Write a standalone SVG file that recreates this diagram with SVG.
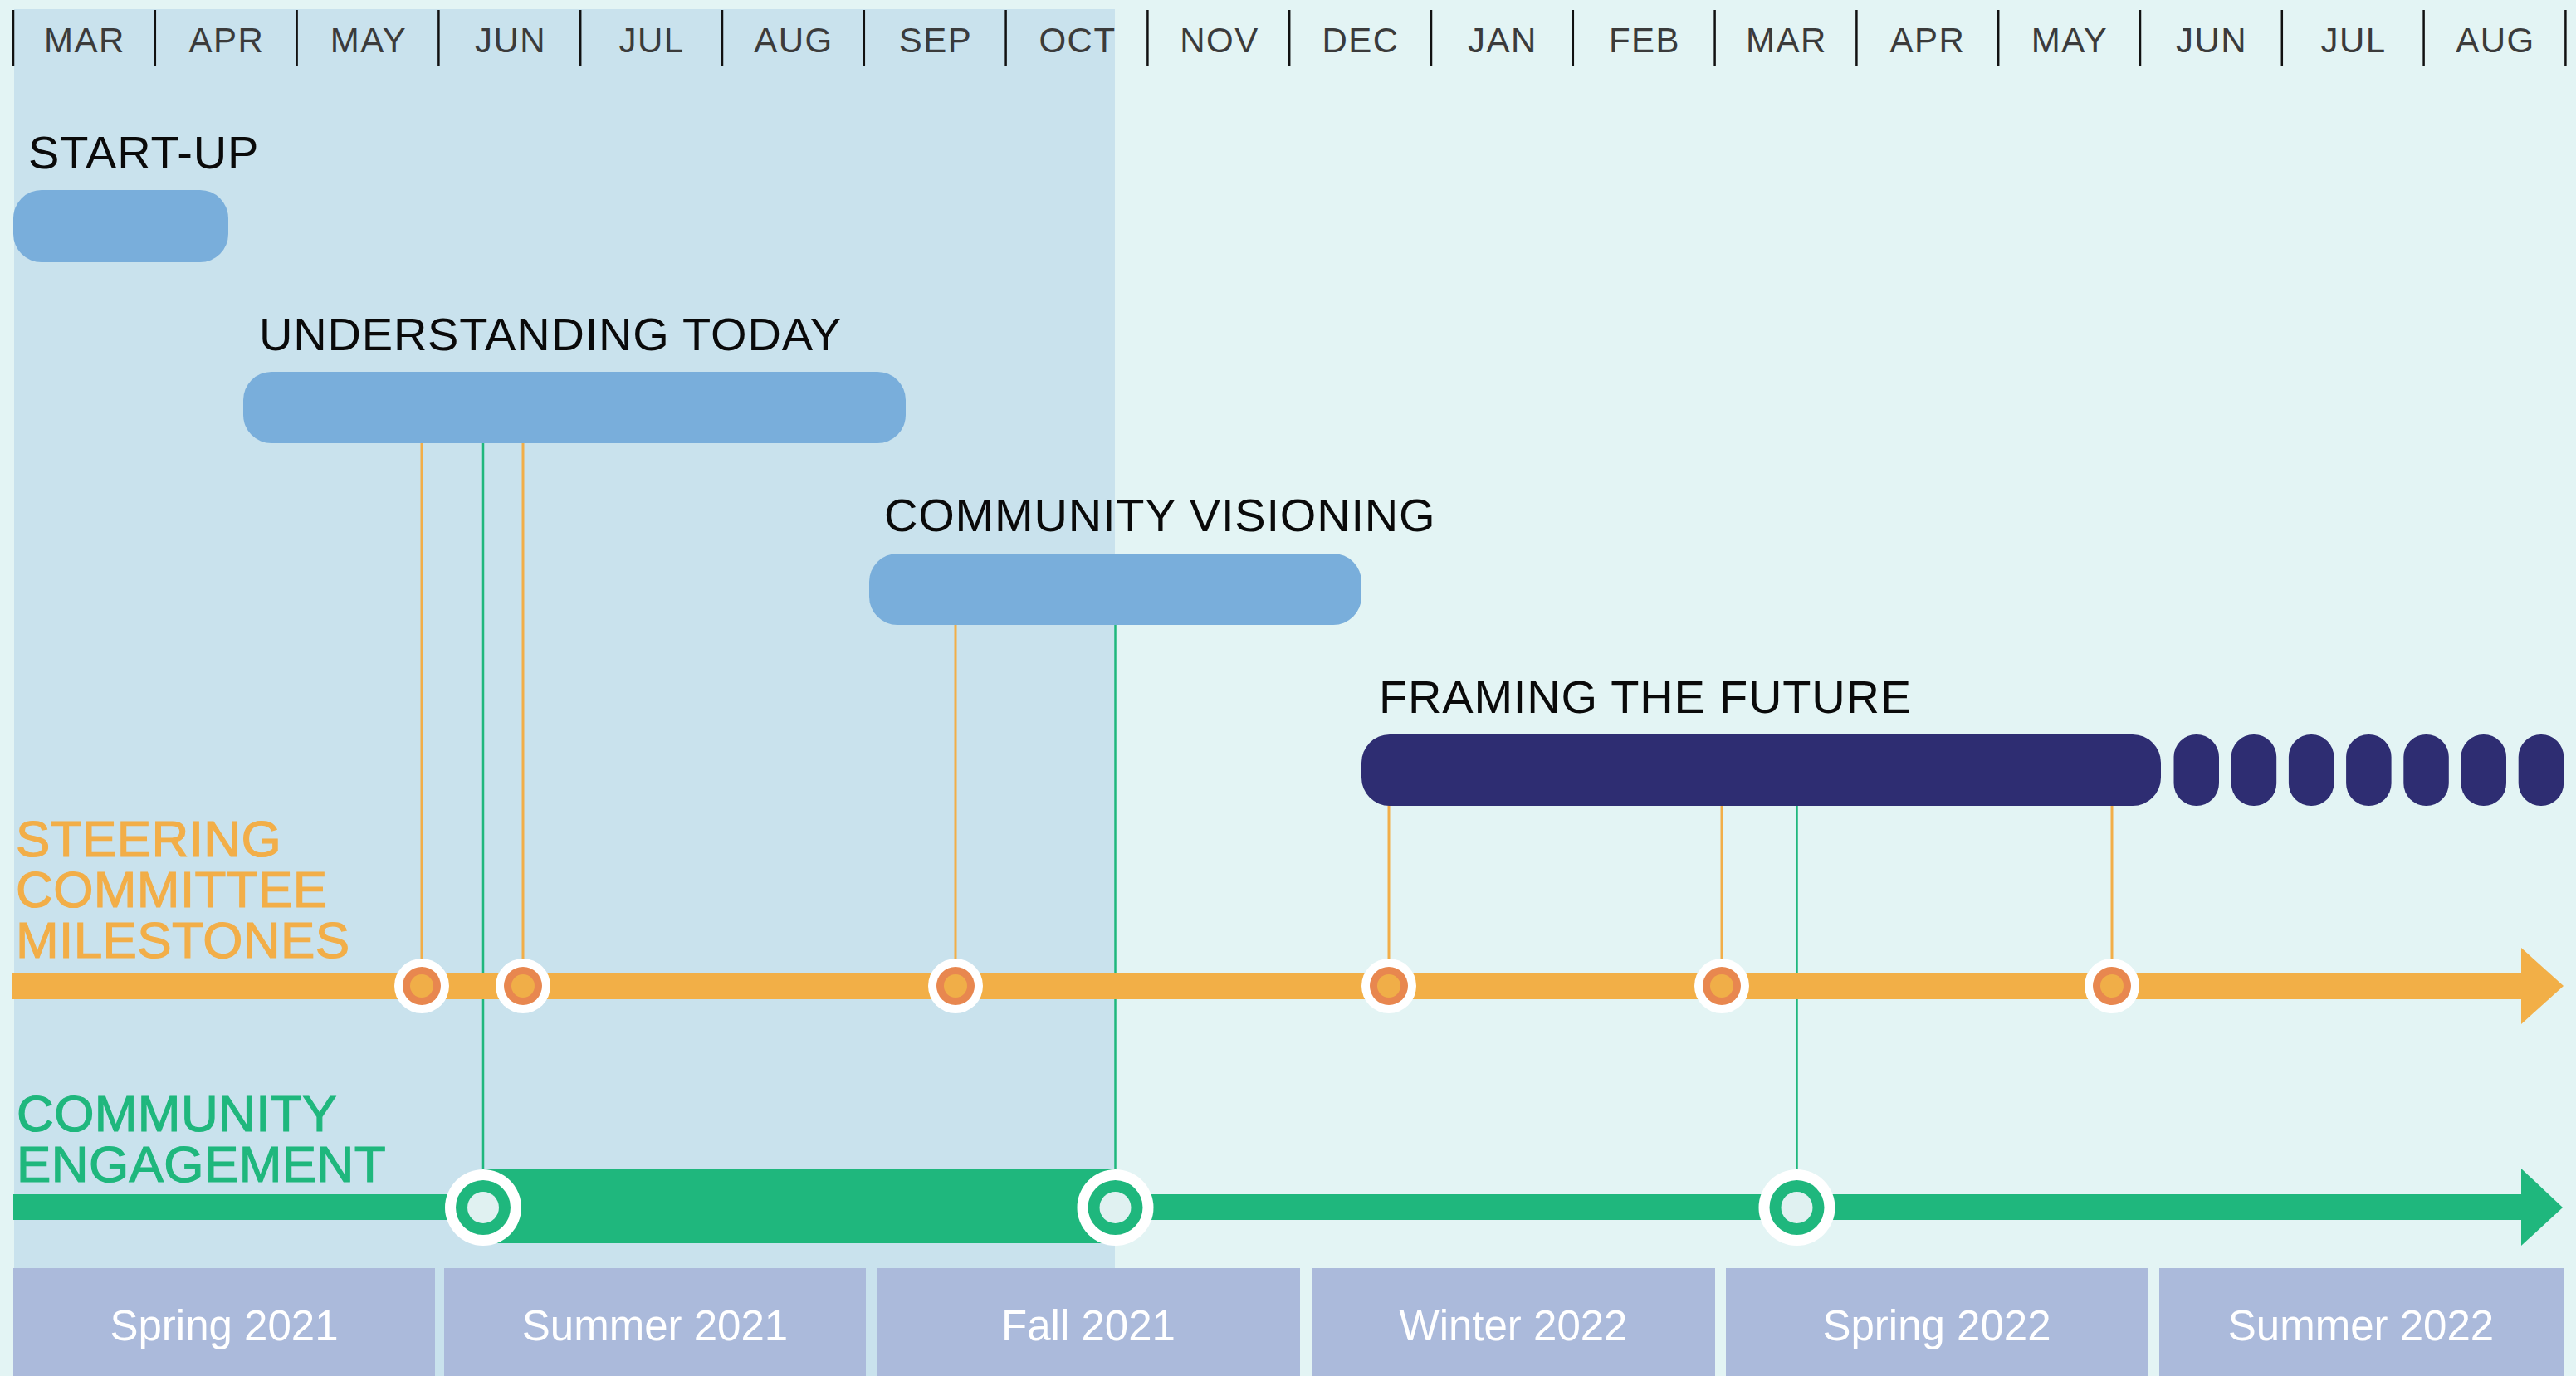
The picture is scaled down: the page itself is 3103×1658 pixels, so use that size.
<svg xmlns="http://www.w3.org/2000/svg" width="3103" height="1658" viewBox="0 0 3103 1658">
<style>
.month{font-family:"Liberation Sans",Arial,sans-serif;font-size:42px;fill:#3b3b3b;text-anchor:middle;letter-spacing:1.5px}
.tick{stroke:#111;stroke-width:2.5}
.title{font-family:"Liberation Sans",Arial,sans-serif;font-size:56px;fill:#0a0a0a;letter-spacing:0.8px}
.phase{fill:#79aedb}
.dark{fill:#2e2d72}
.season{fill:#abbadb}
.stext{font-family:"Liberation Sans",Arial,sans-serif;font-size:51px;fill:#ffffff;text-anchor:middle}
.steer{font-family:"Liberation Sans",Arial,sans-serif;font-size:62px;fill:#f2ae48;stroke:#f2ae48;stroke-width:1.2;letter-spacing:0.4px}
.comm{font-family:"Liberation Sans",Arial,sans-serif;font-size:62px;fill:#1fb77d;stroke:#1fb77d;stroke-width:1.2;letter-spacing:0.4px}
.oline{stroke:#f2ae48;stroke-width:3}
.gline{stroke:#1fb77d;stroke-width:2.5}
</style>
<defs>
<g id="om"><circle r="33" fill="#ffffff"/><circle r="23" fill="#e8874f"/><circle r="14" fill="#f0ae48"/></g>
<g id="gm"><circle r="46" fill="#ffffff"/><circle r="33" fill="#1fb77d"/><circle r="19" fill="#e0f1f1"/></g>
</defs>
<rect x="0" y="0" width="3103" height="1658" fill="#e3f4f4"/>
<rect x="17" y="11" width="1326" height="1647" fill="#c9e2ed"/>

<g id="months">
<g class="tick">
<line x1="16" y1="12" x2="16" y2="80"/><line x1="186.8" y1="12" x2="186.8" y2="80"/><line x1="357.6" y1="12" x2="357.6" y2="80"/><line x1="528.4" y1="12" x2="528.4" y2="80"/><line x1="699.2" y1="12" x2="699.2" y2="80"/><line x1="870" y1="12" x2="870" y2="80"/><line x1="1040.8" y1="12" x2="1040.8" y2="80"/><line x1="1211.6" y1="12" x2="1211.6" y2="80"/><line x1="1382.4" y1="12" x2="1382.4" y2="80"/><line x1="1553.2" y1="12" x2="1553.2" y2="80"/><line x1="1724" y1="12" x2="1724" y2="80"/><line x1="1894.8" y1="12" x2="1894.8" y2="80"/><line x1="2065.6" y1="12" x2="2065.6" y2="80"/><line x1="2236.4" y1="12" x2="2236.4" y2="80"/><line x1="2407.2" y1="12" x2="2407.2" y2="80"/><line x1="2578" y1="12" x2="2578" y2="80"/><line x1="2748.8" y1="12" x2="2748.8" y2="80"/><line x1="2919.6" y1="12" x2="2919.6" y2="80"/><line x1="3090.4" y1="12" x2="3090.4" y2="80"/>
</g>
<text class="month" x="102" y="63">MAR</text><text class="month" x="273" y="63">APR</text><text class="month" x="444" y="63">MAY</text><text class="month" x="615" y="63">JUN</text><text class="month" x="785" y="63">JUL</text><text class="month" x="956" y="63">AUG</text><text class="month" x="1127" y="63">SEP</text><text class="month" x="1298" y="63">OCT</text><text class="month" x="1469" y="63">NOV</text><text class="month" x="1639" y="63">DEC</text><text class="month" x="1810" y="63">JAN</text><text class="month" x="1981" y="63">FEB</text><text class="month" x="2152" y="63">MAR</text><text class="month" x="2322" y="63">APR</text><text class="month" x="2493" y="63">MAY</text><text class="month" x="2664" y="63">JUN</text><text class="month" x="2835" y="63">JUL</text><text class="month" x="3006" y="63">AUG</text>
</g>

<g id="connectors">
<line class="oline" x1="508" y1="534" x2="508" y2="1156"/>
<line class="oline" x1="630" y1="534" x2="630" y2="1156"/>
<line class="oline" x1="1151" y1="752" x2="1151" y2="1156"/>
<line class="oline" x1="1673" y1="970" x2="1673" y2="1156"/>
<line class="oline" x1="2074" y1="970" x2="2074" y2="1156"/>
<line class="oline" x1="2544" y1="970" x2="2544" y2="1156"/>
<line class="gline" x1="582" y1="534" x2="582" y2="1410"/>
<line class="gline" x1="1343.5" y1="752" x2="1343.5" y2="1410"/>
<line class="gline" x1="2164.5" y1="970" x2="2164.5" y2="1410"/>
</g>

<g id="startup">
<text class="title" x="34" y="203">START-UP</text>
<rect class="phase" x="16" y="229" width="259" height="87" rx="34" ry="34"/>
</g>
<g id="understanding-today">
<text class="title" x="312" y="422">UNDERSTANDING TODAY</text>
<rect class="phase" x="293" y="448" width="798" height="86" rx="34" ry="34"/>
</g>
<g id="community-visioning">
<text class="title" x="1065" y="640">COMMUNITY VISIONING</text>
<rect class="phase" x="1047" y="667" width="593" height="86" rx="34" ry="34"/>
</g>
<g id="framing-the-future">
<text class="title" x="1661" y="859">FRAMING THE FUTURE</text>
<rect class="dark" x="1640" y="885" width="963" height="86" rx="34" ry="34"/>
<rect class="dark" x="2618.5" y="885" width="54.5" height="86" rx="27" ry="27"/>
<rect class="dark" x="2687.7" y="885" width="54.5" height="86" rx="27" ry="27"/>
<rect class="dark" x="2756.9" y="885" width="54.5" height="86" rx="27" ry="27"/>
<rect class="dark" x="2826.1" y="885" width="54.5" height="86" rx="27" ry="27"/>
<rect class="dark" x="2895.3" y="885" width="54.5" height="86" rx="27" ry="27"/>
<rect class="dark" x="2964.5" y="885" width="54.5" height="86" rx="27" ry="27"/>
<rect class="dark" x="3033.7" y="885" width="54.5" height="86" rx="27" ry="27"/>
</g>

<g id="steering-committee">
<text class="steer" x="19" y="1032">STEERING</text>
<text class="steer" x="19" y="1093">COMMITTEE</text>
<text class="steer" x="19" y="1154">MILESTONES</text>
<rect x="15" y="1172" width="3024" height="32" fill="#f2af47"/>
<polygon points="3037,1142 3088,1188 3037,1234" fill="#f2af47"/>
<use href="#om" x="508" y="1188"/>
<use href="#om" x="630" y="1188"/>
<use href="#om" x="1151" y="1188"/>
<use href="#om" x="1673" y="1188"/>
<use href="#om" x="2074" y="1188"/>
<use href="#om" x="2544" y="1188"/>
</g>

<g id="community-engagement">
<text class="comm" x="20" y="1363">COMMUNITY</text>
<text class="comm" x="20" y="1424">ENGAGEMENT</text>
<rect x="16" y="1439" width="3023" height="31" fill="#1fb77d"/>
<rect x="582" y="1408" width="762" height="90" fill="#1fb77d"/>
<polygon points="3037,1408 3087,1455 3037,1501" fill="#1fb77d"/>
<use href="#gm" x="582" y="1455"/>
<use href="#gm" x="1343.5" y="1455"/>
<use href="#gm" x="2164.5" y="1455"/>
</g>

<g id="seasons">
<rect class="season" x="16" y="1528" width="508" height="130"/>
<rect class="season" x="535" y="1528" width="508" height="130"/>
<rect class="season" x="1057" y="1528" width="509" height="130"/>
<rect class="season" x="1580" y="1528" width="486" height="130"/>
<rect class="season" x="2079" y="1528" width="508" height="130"/>
<rect class="season" x="2601" y="1528" width="487" height="130"/>
<text class="stext" x="270" y="1615">Spring 2021</text>
<text class="stext" x="789" y="1615">Summer 2021</text>
<text class="stext" x="1311" y="1615">Fall 2021</text>
<text class="stext" x="1823" y="1615">Winter 2022</text>
<text class="stext" x="2333" y="1615">Spring 2022</text>
<text class="stext" x="2844" y="1615">Summer 2022</text>
</g>
</svg>
